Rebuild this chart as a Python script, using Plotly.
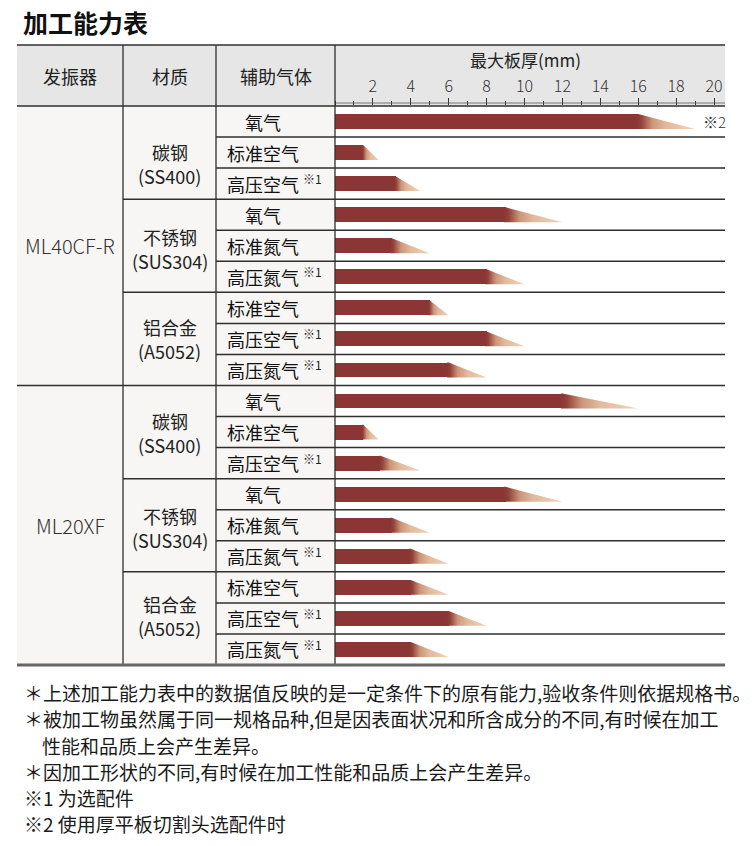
import plotly.graph_objects as go

W, H = 754, 846

# ---------------- data ----------------
title = "加工能力表"
header_labels = ["发振器", "材质", "辅助气体"]
axis_title = "最大板厚(mm)"
oscillators = ["ML40CF-R", "ML20XF"]
material_names = ["碳钢", "不锈钢", "铝合金"]
material_grades = ["(SS400)", "(SUS304)", "(A5052)"]
gas_by_material = [
    ["氧气", "标准空气", "高压空气"],
    ["氧气", "标准氮气", "高压氮气"],
    ["标准空气", "高压空气", "高压氮气"],
]
option_by_material = [
    [False, False, True],
    [False, False, True],
    [False, True, True],
]
# solid (guaranteed) thickness and maximum thickness (tapered tail), mm
solid_thickness = [16, 1.5, 3.2, 9, 3, 8, 5, 8, 6,
                   12, 1.5, 2.4, 9, 3, 4, 4, 6, 4]
max_thickness = [19, 2.3, 4.5, 12, 5, 10, 6, 10, 8,
                 16, 2.3, 4.5, 12, 5, 6, 6, 8, 6]
tick_values = [2, 4, 6, 8, 10, 12, 14, 16, 18, 20]
tick_labels = [str(v) for v in tick_values]
note_row = 0
note_text = "※2"
option_mark = "※1"
footnotes = [
    "＊上述加工能力表中的数据值反映的是一定条件下的原有能力,验收条件则依据规格书。",
    "＊被加工物虽然属于同一规格品种,但是因表面状况和所含成分的不同,有时候在加工",
    "性能和品质上会产生差异。",
    "＊因加工形状的不同,有时候在加工性能和品质上会产生差异。",
    "※1 为选配件",
    "※2 使用厚平板切割头选配件时",
]

# ---------------- layout helpers ----------------
def X(px):
    return px / W

def Y(py):
    return 1 - py / H

FONT = "Noto Sans CJK SC"
TABLE_L, COL1, COL2, COL3, TABLE_R = 17, 123, 216, 335, 725
HEAD_T, HEAD_B, BODY_B = 45, 106, 665
n_rows = len(solid_thickness)
rows = list(range(n_rows))
rows_per_osc = sum(len(g) for g in gas_by_material)

fig = go.Figure()

# solid bars
fig.add_trace(go.Bar(
    orientation="h", x=solid_thickness, y=rows, base=0, width=0.48,
    marker=dict(color="#8b3535", line=dict(width=0)),
    hoverinfo="skip", showlegend=False,
))

# tapered gradient tails (slightly overlapping the solid bar to hide seams)
half = 0.24
overlap = 0.08
grad = [[0.0, "#8b3535"], [0.08, "#94423b"], [0.27, "#cc967a"],
        [0.5, "#e2b99b"], [1.0, "#efd3b9"]]
for r, s, t in zip(rows, solid_thickness, max_thickness):
    fig.add_trace(go.Scatter(
        x=[s - overlap, s, t, s - overlap, s - overlap],
        y=[r - half, r - half, r + half, r + half, r - half],
        mode="lines", fill="toself",
        fillgradient=dict(type="horizontal", colorscale=grad),
        line=dict(width=0, color="rgba(0,0,0,0)"),
        hoverinfo="skip", showlegend=False,
    ))

shapes = []
# backgrounds
shapes.append(dict(type="rect", xref="paper", yref="paper",
                   x0=X(TABLE_L), x1=X(TABLE_R), y0=Y(HEAD_B), y1=Y(HEAD_T),
                   fillcolor="#e6e6e6", line=dict(width=0), layer="below"))
shapes.append(dict(type="rect", xref="paper", yref="paper",
                   x0=X(TABLE_L), x1=X(COL3), y0=Y(BODY_B), y1=Y(HEAD_B),
                   fillcolor="#f7f6f4", line=dict(width=0), layer="below"))

LINE = "#2f2f2f"
# horizontal header lines
for py in (HEAD_T, HEAD_B):
    shapes.append(dict(type="line", xref="paper", yref="paper",
                       x0=X(TABLE_L), x1=X(TABLE_R), y0=Y(py), y1=Y(py),
                       line=dict(color=LINE, width=1.5)))
# thin axis baseline across the ticks
shapes.append(dict(type="line", xref="paper", yref="paper",
                   x0=X(COL3), x1=X(TABLE_R), y0=Y(103), y1=Y(103),
                   line=dict(color="#555", width=0.8)))
# row separators
for b in range(1, n_rows):
    yb = b - 0.5
    if b % rows_per_osc == 0:
        x0 = TABLE_L
    elif b % 3 == 0:
        x0 = COL1
    else:
        x0 = COL2
    shapes.append(dict(type="line", xref="paper", yref="y",
                       x0=X(x0), x1=X(TABLE_R), y0=yb, y1=yb,
                       line=dict(color=LINE, width=1.5)))
# vertical lines
for px in (COL1, COL2, COL3):
    shapes.append(dict(type="line", xref="paper", yref="paper",
                       x0=X(px), x1=X(px), y0=Y(BODY_B), y1=Y(HEAD_T),
                       line=dict(color=LINE, width=1.3)))
# bottom border
shapes.append(dict(type="line", xref="paper", yref="paper",
                   x0=X(TABLE_L), x1=X(TABLE_R), y0=Y(BODY_B), y1=Y(BODY_B),
                   line=dict(color="#666666", width=3)))

ann = []
ann.append(dict(text="<b>" + title + "</b>", xref="paper", yref="paper",
                x=X(21), y=Y(22), xanchor="left", yanchor="middle",
                showarrow=False, font=dict(family=FONT, size=25, color="#111")))
for lbl, cx in zip(header_labels, [(TABLE_L + COL1) / 2, (COL1 + COL2) / 2, (COL2 + COL3) / 2]):
    ann.append(dict(text=lbl, xref="paper", yref="paper", x=X(cx), y=Y(76),
                    xanchor="center", yanchor="middle", showarrow=False,
                    font=dict(family=FONT, size=18, color="#222")))
ann.append(dict(text=axis_title, xref="paper", yref="paper", x=X(525), y=Y(60),
                xanchor="center", yanchor="middle", showarrow=False,
                font=dict(family=FONT, size=17, color="#222")))

mat_shift = [-11, -3, 0, -1, -3, 2]
r = 0
for oi, osc in enumerate(oscillators):
    ann.append(dict(text=osc, xref="paper", yref="y", x=X((TABLE_L + COL1) / 2),
                    y=oi * rows_per_osc + (rows_per_osc - 1) / 2,
                    xanchor="center", yanchor="middle", showarrow=False,
                    font=dict(family=FONT, size=20, color="#333", weight=300)))
    for mi, (mn, mg) in enumerate(zip(material_names, material_grades)):
        gases = gas_by_material[mi]
        yc = r + (len(gases) - 1) / 2
        sh = mat_shift[oi * 3 + mi]
        for txt, dy in ((mn, 12), (mg, -12)):
            ann.append(dict(text=txt, xref="paper", yref="y",
                            x=X((COL1 + COL2) / 2), y=yc, yshift=sh + dy,
                            xanchor="center", yanchor="middle", showarrow=False,
                            font=dict(family=FONT, size=18, color="#222")))
        for gi, g in enumerate(gases):
            ann.append(dict(text=g, xref="paper", yref="y", x=X(263), y=r,
                            xanchor="center", yanchor="middle", showarrow=False,
                            font=dict(family=FONT, size=18, color="#111")))
            if option_by_material[mi][gi]:
                ann.append(dict(text=option_mark, xref="paper", yref="y", x=X(301), y=r,
                                yshift=5, xanchor="left", yanchor="middle", showarrow=False,
                                font=dict(family=FONT, size=12, color="#222")))
            r += 1

ann.append(dict(text=note_text, xref="x", yref="y", x=max_thickness[note_row] + 0.3,
                y=note_row, xanchor="left", yanchor="middle", showarrow=False,
                font=dict(family=FONT, size=15, color="#333", weight=300)))

note_y = [692, 718, 745, 771, 797, 823]
note_x = [22, 22, 40, 22, 22, 22]
for t, py, px in zip(footnotes, note_y, note_x):
    ann.append(dict(text=t, xref="paper", yref="paper", x=X(px), y=Y(py),
                    xanchor="left", yanchor="middle", showarrow=False,
                    font=dict(family=FONT, size=19, color="#1a1a1a")))

fig.update_layout(
    width=W, height=H, margin=dict(l=0, r=0, t=0, b=0),
    paper_bgcolor="white", plot_bgcolor="rgba(0,0,0,0)",
    shapes=shapes, annotations=ann, showlegend=False, bargap=0,
    xaxis=dict(domain=[X(COL3), X(TABLE_R)], range=[0, 20.58], side="top",
               showgrid=False, zeroline=False, showline=False,
               tickmode="array", tickvals=tick_values, ticktext=tick_labels,
               ticks="outside", ticklen=7, tickwidth=1, tickcolor="#333",
               tickfont=dict(family=FONT, size=16, color="#333", weight=300),
               minor=dict(dtick=1, tick0=0, ticks="outside", ticklen=4,
                          tickwidth=1, tickcolor="#333", showgrid=False),
               fixedrange=True),
    yaxis=dict(domain=[Y(BODY_B), Y(HEAD_B)], range=[n_rows - 0.5, -0.5],
               visible=False, fixedrange=True),
)

fig.write_html("out.html", config={"displayModeBar": False},
               post_script="document.body.style.margin='0';")
